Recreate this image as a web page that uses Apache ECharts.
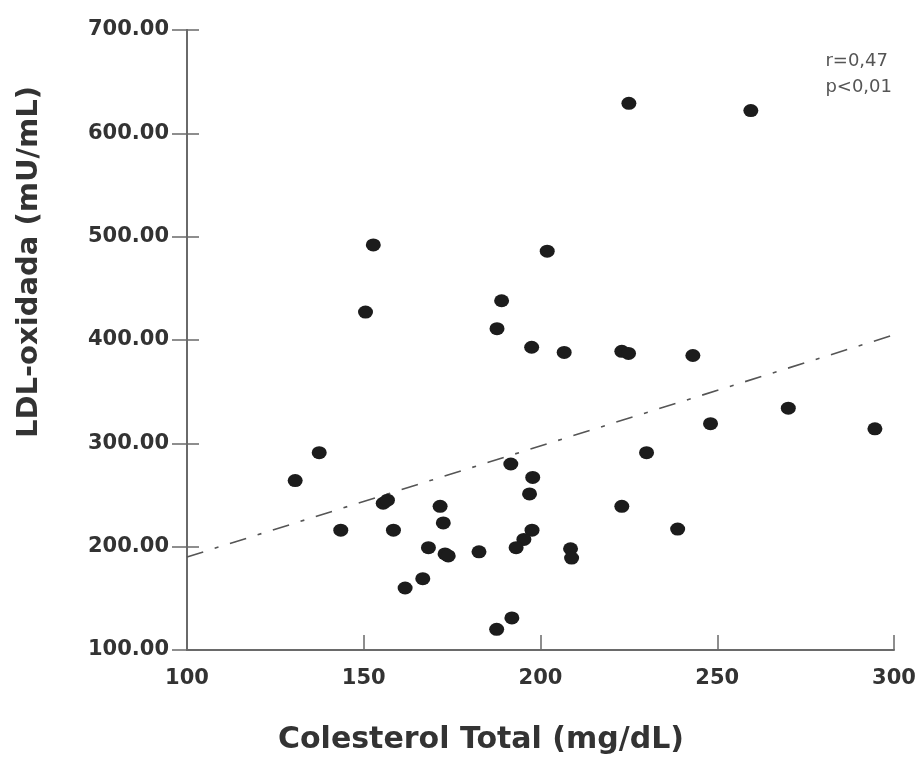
<!DOCTYPE html>
<html>
<head>
<meta charset="utf-8">
<script src="https://cdn.jsdelivr.net/npm/echarts@6/dist/echarts.min.js"></script>
<style>
  html, body { margin: 0; padding: 0; background: #fff; }
  #chart { width: 922px; height: 762px; }
</style>
</head>
<body>
<div id="chart"></div>
<script>
// values
const colesterol = [130.6, 137.4, 143.5, 155.5, 156.7, 158.4, 171.6, 172.5, 168.3, 173.0,
  173.9, 182.6, 166.7, 161.7, 187.6, 191.9, 187.7, 152.7, 150.5, 189.0,
  201.9, 225.0, 259.5, 197.5, 206.7, 223.0, 224.9, 243.1, 270.1, 248.1,
  294.6, 230.0, 191.6, 197.8, 196.9, 223.0, 238.8, 197.6, 195.3, 193.1,
  208.5, 208.8];
const ldlOxidada = [264, 291, 216, 242, 245, 216, 239, 223, 199, 193,
  191, 195, 169, 160, 120, 131, 411, 492, 427, 438,
  486, 629, 622, 393, 388, 389, 387, 385, 334, 319,
  314, 291, 280, 267, 251, 239, 217, 216, 207, 199,
  198, 189];
// regression line ends
const trendX = [100, 300];
const trendY = [190, 405];
const annotation = ['r=0,47', 'p<0,01'];

const axisColor = '#6a6a6a';
const labelFont = 'DejaVu Sans';
const plotRect = { left: 187, right: 28, top: 30, bottom: 112 };

const chart = echarts.init(document.getElementById('chart'));

const option = {
  backgroundColor: '#fff',
  animation: false,
  title: {
    text: annotation.join('\n'),
    right: 30,
    top: 48,
    padding: 0,
    textStyle: {
      fontFamily: labelFont,
      fontWeight: 'normal',
      fontSize: 18,
      lineHeight: 26,
      color: '#555'
    }
  },
  // second grid on the same rect only carries the inner half of the y ticks
  grid: [Object.assign({}, plotRect), Object.assign({}, plotRect)],
  xAxis: [{
    type: 'value',
    min: 100,
    max: 300,
    interval: 50,
    name: 'Colesterol Total (mg/dL)',
    nameLocation: 'middle',
    nameGap: 75,
    nameTextStyle: {
      fontFamily: labelFont,
      fontWeight: 'bold',
      fontSize: 30,
      color: '#333',
      padding: [0, 119, 0, 0]
    },
    axisLine: { lineStyle: { color: axisColor, width: 2 } },
    axisTick: { inside: true, length: 15, lineStyle: { color: axisColor, width: 1.5 } },
    axisLabel: {
      margin: 18,
      fontFamily: labelFont,
      fontWeight: 'bold',
      fontSize: 21,
      color: '#333'
    },
    splitLine: { show: false }
  }, {
    gridIndex: 1,
    type: 'value',
    min: 100,
    max: 300,
    interval: 50,
    show: false
  }],
  yAxis: [{
    type: 'value',
    min: 100,
    max: 700,
    interval: 100,
    name: 'LDL-oxidada (mU/mL)',
    nameLocation: 'middle',
    nameGap: 143,
    nameTextStyle: {
      fontFamily: labelFont,
      fontWeight: 'bold',
      fontSize: 29,
      color: '#333',
      padding: [0, 0, 0, 156]
    },
    axisLine: { lineStyle: { color: axisColor, width: 2 } },
    axisTick: { length: 15, lineStyle: { color: axisColor, width: 1.5 } },
    axisLabel: {
      margin: 18,
      fontFamily: labelFont,
      fontWeight: 'bold',
      fontSize: 21,
      color: '#333',
      formatter: v => v.toFixed(2)
    },
    splitLine: { show: false }
  }, {
    gridIndex: 1,
    type: 'value',
    min: 100,
    max: 700,
    interval: 100,
    show: true,
    position: 'left',
    axisLine: { show: true, lineStyle: { color: axisColor, width: 2 } },
    axisTick: { show: true, inside: true, length: 12, lineStyle: { color: axisColor, width: 1.5 } },
    axisLabel: { show: false },
    splitLine: { show: false }
  }],
  series: [{
    type: 'line',
    xAxisIndex: 1,
    yAxisIndex: 1,
    data: trendX.map((x, i) => [x, trendY[i]]),
    symbol: 'none',
    lineStyle: { color: '#555', width: 1.6, type: [17, 12, 4, 12] },
    z: 1
  }, {
    type: 'scatter',
    data: colesterol.map((x, i) => [x, ldlOxidada[i]]),
    symbol: 'circle',
    symbolSize: [15, 13],
    itemStyle: { color: '#1c1c1c', opacity: 1 },
    z: 2
  }]
};

chart.setOption(option);
</script>
</body>
</html>
